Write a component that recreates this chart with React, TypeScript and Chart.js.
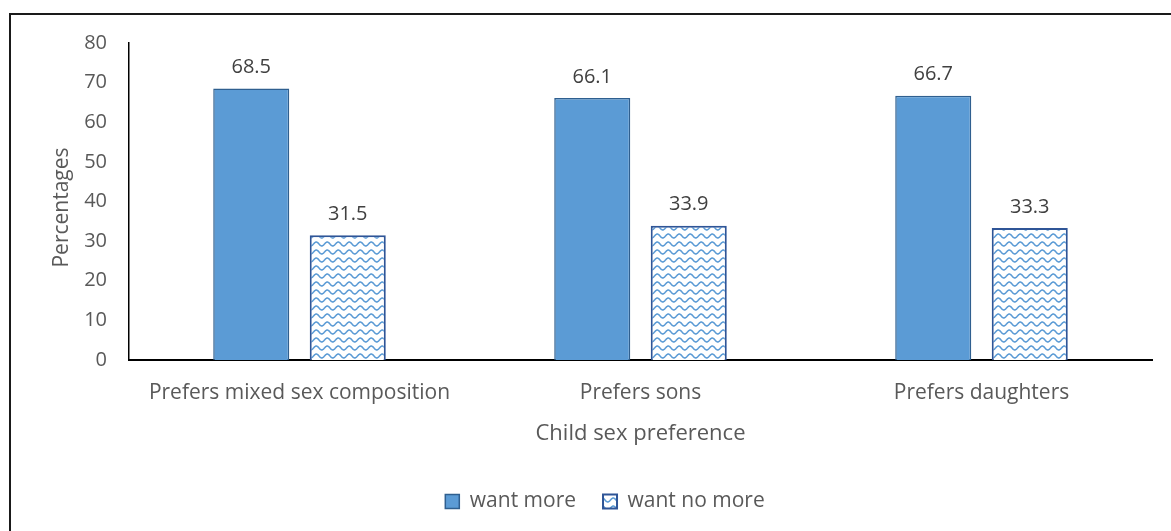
import React, { useEffect, useRef } from "react";
import { Chart, registerables } from "chart.js";

Chart.register(...registerables);

const categories = ["Prefers mixed sex composition", "Prefers sons", "Prefers daughters"];
const wantMore = [68.5, 66.1, 66.7];
const wantNoMore = [31.5, 33.9, 33.3];
const seriesNames = ["want more", "want no more"];
const yTicks = [0, 10, 20, 30, 40, 50, 60, 70, 80];
const yTitle = "Percentages";
const xTitle = "Child sex preference";

const FONT = "'Open Sans', sans-serif";
const TEXT = "#595959";

function makeWavePattern(): CanvasPattern | string {
  const tile = document.createElement("canvas");
  tile.width = 11;
  tile.height = 8;
  const ctx = tile.getContext("2d");
  if (!ctx) return "#ffffff";
  ctx.fillStyle = "#ffffff";
  ctx.fillRect(0, 0, 11, 8);
  ctx.strokeStyle = "#5B9BD5";
  ctx.lineWidth = 1.5;
  ctx.beginPath();
  for (let x = -1; x <= 12; x += 0.5) {
    const y = 4 + 2 * Math.sin((2 * Math.PI * x) / 11);
    if (x === -1) ctx.moveTo(x, y);
    else ctx.lineTo(x, y);
  }
  ctx.stroke();
  return ctx.createPattern(tile, "repeat") || "#ffffff";
}

// value printed above each bar, plus the rotated y-axis title
const valueLabels = {
  id: "valueLabels",
  afterDatasetsDraw(chart: any) {
    const ctx = chart.ctx;
    ctx.save();
    ctx.font = `20px ${FONT}`;
    ctx.fillStyle = "#404040";
    ctx.textAlign = "center";
    ctx.textBaseline = "middle";
    chart.data.datasets.forEach((ds: any, i: number) => {
      const meta = chart.getDatasetMeta(i);
      meta.data.forEach((bar: any, j: number) => {
        ctx.fillText(ds.data[j].toFixed(1), bar.x, bar.y - 21);
      });
    });
    const area = chart.chartArea;
    ctx.font = `21px ${FONT}`;
    ctx.fillStyle = TEXT;
    ctx.translate(62, (area.top + area.bottom) / 2 + 6);
    ctx.rotate(-Math.PI / 2);
    ctx.fillText(yTitle, 0, 0);
    ctx.restore();
  },
};

// nudge the legend so it sits centred under the whole frame
const legendShift = {
  id: "legendShift",
  afterLayout(chart: any) {
    const lg = chart.legend;
    if (lg) {
      lg.left += 29;
      lg.right += 29;
    }
  },
};

export default function App() {
  const ref = useRef<HTMLCanvasElement>(null);

  useEffect(() => {
    if (!ref.current) return;
    const pattern = makeWavePattern();
    const chart = new Chart(ref.current, {
      type: "bar",
      data: {
        labels: categories,
        datasets: [
          {
            label: seriesNames[0],
            data: wantMore,
            backgroundColor: "#5B9BD5",
            borderColor: "#2F5F8F",
            borderWidth: 1.5,
            categoryPercentage: 0.566,
            barPercentage: 0.788,
          },
          {
            label: seriesNames[1],
            data: wantNoMore,
            backgroundColor: pattern as any,
            borderColor: "#2F5597",
            borderWidth: 2,
            categoryPercentage: 0.566,
            barPercentage: 0.788,
          },
        ],
      },
      options: {
        animation: false,
        responsive: false,
        layout: { padding: { left: 0, top: 43, right: 19, bottom: 9 } },
        plugins: {
          tooltip: { enabled: false },
          legend: {
            position: "bottom",
            labels: {
              font: { family: FONT, size: 21 },
              color: TEXT,
              boxWidth: 14,
              boxHeight: 14,
              padding: 27,
            },
          },
        },
        scales: {
          x: {
            grid: { display: false, drawTicks: false },
            border: { color: "#000000", width: 2 },
            ticks: { font: { family: FONT, size: 21 }, color: TEXT, padding: 20 },
            title: {
              display: true,
              text: xTitle,
              font: { family: FONT, size: 22 },
              color: TEXT,
              padding: { top: 14, bottom: 17 },
            },
            afterFit: (scale: any) => {
              scale.height = 104;
            },
          },
          y: {
            min: 0,
            max: 80,
            afterBuildTicks: (scale: any) => {
              scale.ticks = yTicks.map((v) => ({ value: v }));
            },
            grid: { display: false, drawTicks: false },
            border: { color: "#000000", width: 1.5 },
            ticks: { font: { family: FONT, size: 20 }, color: TEXT, padding: 22 },
            afterFit: (scale: any) => {
              scale.width = 129;
            },
          },
        },
      },
      plugins: [valueLabels, legendShift],
    });
    return () => chart.destroy();
  }, []);

  return (
    <div style={{ position: "fixed", left: 0, top: 0, width: 1171, height: 531, overflow: "hidden", background: "#ffffff" }}>
      <div
        style={{
          position: "absolute",
          left: 9,
          top: 13,
          width: 1200,
          height: 600,
          border: "2px solid #1a1a1a",
          boxSizing: "border-box",
        }}
      />
      <canvas ref={ref} width={1171} height={531} style={{ position: "absolute", left: 0, top: 0 }} />
    </div>
  );
}
